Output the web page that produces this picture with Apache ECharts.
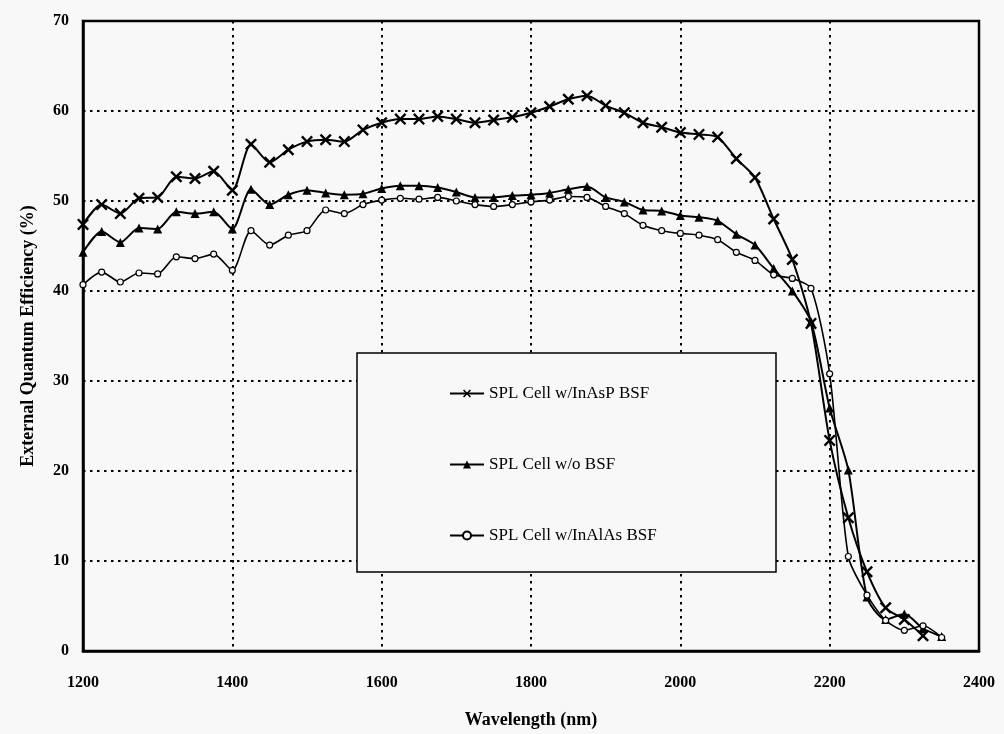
<!DOCTYPE html>
<html>
<head>
<meta charset="utf-8">
<script src="https://cdn.jsdelivr.net/npm/echarts@6/dist/echarts.min.js"></script>
<style>
  html, body { margin: 0; padding: 0; background: #f8f8f8; }
  #main { width: 1004px; height: 734px; }
</style>
</head>
<body>
<div id="main"></div>
<script>
// wavelength (nm), one point every 25 nm
var wavelengths = [1200, 1225, 1250, 1275, 1300, 1325, 1350, 1375, 1400, 1425, 1450, 1475,
  1500, 1525, 1550, 1575, 1600, 1625, 1650, 1675, 1700, 1725, 1750, 1775,
  1800, 1825, 1850, 1875, 1900, 1925, 1950, 1975, 2000, 2025, 2050, 2075,
  2100, 2125, 2150, 2175, 2200, 2225, 2250, 2275, 2300, 2325, 2350]

// EQE (%)
var inAsP = [47.4, 49.6, 48.6, 50.3, 50.4, 52.7, 52.5, 53.3, 51.2, 56.3, 54.3, 55.7,
  56.6, 56.8, 56.6, 57.9, 58.7, 59.1, 59.1, 59.4, 59.1, 58.7, 59.0, 59.3,
  59.8, 60.5, 61.3, 61.7, 60.6, 59.8, 58.7, 58.2, 57.6, 57.4, 57.1, 54.7,
  52.6, 48.0, 43.5, 36.4, 23.4, 14.8, 8.8, 4.8, 3.5, 1.7]
var noBSF = [44.3, 46.6, 45.4, 47.0, 46.9, 48.8, 48.6, 48.8, 46.9, 51.3, 49.6, 50.7,
  51.2, 50.9, 50.7, 50.8, 51.4, 51.7, 51.7, 51.5, 51.0, 50.4, 50.4, 50.6,
  50.7, 50.9, 51.3, 51.6, 50.4, 49.9, 49.0, 48.9, 48.4, 48.2, 47.8, 46.3,
  45.1, 42.5, 40.0, 36.6, 27.0, 20.1, 6.0, 3.5, 4.1, 2.5, 1.6]
var inAlAs = [40.7, 42.1, 41.0, 42.0, 41.9, 43.8, 43.6, 44.1, 42.3, 46.7, 45.1, 46.2,
  46.7, 49.0, 48.6, 49.6, 50.1, 50.3, 50.2, 50.4, 50.0, 49.6, 49.4, 49.6,
  49.9, 50.1, 50.5, 50.4, 49.4, 48.6, 47.3, 46.7, 46.4, 46.2, 45.7, 44.3,
  43.4, 41.8, 41.4, 40.3, 30.8, 10.5, 6.2, 3.4, 2.3, 2.8, 1.5]

var seriesNames = ['SPL Cell w/InAsP BSF', 'SPL Cell w/o BSF', 'SPL Cell w/InAlAs BSF']

function pairs(vals) {
  return vals.map(function (v, i) { return [wavelengths[i], v] })
}

var serif = 'Liberation Serif'
var bg = '#f8f8f8'
var xMark = 'path://M0,1.4L1.4,0L5,3.6L8.6,0L10,1.4L6.4,5L10,8.6L8.6,10L5,6.4L1.4,10L0,8.6L3.6,5Z'

var myChart = echarts.init(document.getElementById('main'))
var option = {
  backgroundColor: bg,
  animation: false,
  color: ['#000', '#000', '#000'],
  grid: {
    left: 83,
    right: 25,
    top: 21,
    bottom: 83,
    show: true,
    borderColor: '#000',
    borderWidth: 2.5,
    backgroundColor: 'transparent'
  },
  xAxis: {
    type: 'value',
    min: 1200,
    max: 2400,
    interval: 200,
    name: 'Wavelength (nm)',
    nameLocation: 'middle',
    nameGap: 60,
    nameTextStyle: { fontFamily: serif, fontWeight: 'bold', fontSize: 18, color: '#000' },
    axisLine: { lineStyle: { color: '#000', width: 2.5 } },
    axisTick: { show: false },
    axisLabel: {
      margin: 24, fontFamily: serif, fontWeight: 'bold', fontSize: 16, color: '#000',
      formatter: function (v) { return String(v) }
    },
    splitLine: { show: true, lineStyle: { color: '#000', width: 2, type: [2.5, 4.5] } }
  },
  yAxis: {
    type: 'value',
    min: 0,
    max: 70,
    interval: 10,
    name: 'External Quantum Efficiency (%)',
    nameLocation: 'middle',
    nameGap: 46,
    nameTextStyle: { fontFamily: serif, fontWeight: 'bold', fontSize: 18, color: '#000' },
    axisLine: { lineStyle: { color: '#000', width: 2.5 } },
    axisTick: { show: false },
    axisLabel: { margin: 14, fontFamily: serif, fontWeight: 'bold', fontSize: 16, color: '#000' },
    splitLine: { show: true, lineStyle: { color: '#000', width: 2, type: [2.5, 4.5] } }
  },
  legend: {
    orient: 'vertical',
    left: 444,
    top: 380,
    itemWidth: 34,
    itemHeight: 10,
    itemGap: 54,
    z: 10,
    textStyle: { fontFamily: serif, fontSize: 17, color: '#000' },
    data: seriesNames
  },
  graphic: [
    {
      type: 'rect',
      z: 5,
      shape: { x: 357, y: 353, width: 419, height: 219 },
      style: { fill: bg, stroke: '#000', lineWidth: 1.5 }
    }
  ],
  series: [
    {
      name: seriesNames[0],
      type: 'line',
      smooth: 0.25,
      z: 3,
      symbol: xMark,
      symbolSize: 12,
      itemStyle: { color: '#000' },
      lineStyle: { color: '#000', width: 2 },
      data: pairs(inAsP)
    },
    {
      name: seriesNames[1],
      type: 'line',
      smooth: 0.25,
      z: 3,
      symbol: 'triangle',
      symbolSize: 9,
      itemStyle: { color: '#000' },
      lineStyle: { color: '#000', width: 2 },
      data: pairs(noBSF)
    },
    {
      name: seriesNames[2],
      type: 'line',
      smooth: 0.25,
      z: 3,
      symbol: 'circle',
      symbolSize: 6,
      itemStyle: { color: bg, borderColor: '#000', borderWidth: 1.2 },
      lineStyle: { color: '#000', width: 1.6 },
      data: pairs(inAlAs)
    }
  ]
}
option && myChart.setOption(option)
</script>
</body>
</html>
